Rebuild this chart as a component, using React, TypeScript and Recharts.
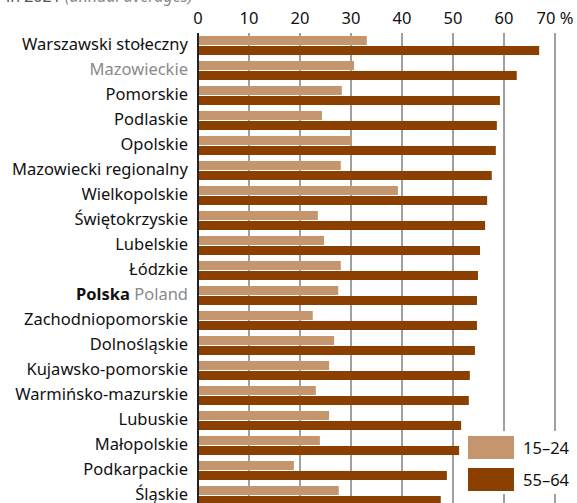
import { BarChart, Bar, XAxis, YAxis, CartesianGrid, Legend } from 'recharts'

const regions = [
  'Warszawski stołeczny', 'Mazowieckie', 'Pomorskie', 'Podlaskie', 'Opolskie',
  'Mazowiecki regionalny', 'Wielkopolskie', 'Świętokrzyskie', 'Lubelskie', 'Łódzkie',
  'Polska', 'Zachodniopomorskie', 'Dolnośląskie', 'Kujawsko-pomorskie', 'Warmińsko-mazurskie',
  'Lubuskie', 'Małopolskie', 'Podkarpackie', 'Śląskie',
]
const young = [33.1, 30.6, 28.2, 24.3, 30.1, 28.0, 39.2, 23.5, 24.7, 28.0, 27.5, 22.5, 26.7, 25.7, 23.1, 25.7, 23.9, 18.8, 27.6]
const older = [66.9, 62.5, 59.2, 58.6, 58.4, 57.6, 56.7, 56.3, 55.3, 54.9, 54.7, 54.7, 54.3, 53.3, 53.1, 51.6, 51.2, 48.8, 47.6]
const xTicks = [0, 10, 20, 30, 40, 50, 60, 70]

const LIGHT = '#c5956d'
const DARK = '#8b4000'
const GREY = '#8a8a8a'
const FONT = '"Noto Sans", sans-serif'

const data = regions.map((name, i) => ({ name, young: young[i], older: older[i] }))

const RegionTick = ({ x, y, payload }: any) => {
  const v = payload.value
  if (v === 'Polska') {
    return (
      <text x={x} y={y} dy={4} textAnchor="end" fontSize={16.5} fontFamily={FONT}>
        <tspan fontWeight="bold" fill="#111">Polska</tspan>
        <tspan fill={GREY}> Poland</tspan>
      </text>
    )
  }
  return (
    <text x={x} y={y} dy={4} textAnchor="end" fontSize={16.5} fontFamily={FONT} fill={v === 'Mazowieckie' ? GREY : '#111'}>
      {v}
    </text>
  )
}

const ValueTick = ({ x, payload }: any) => (
  <text x={x} y={24} textAnchor="middle" fontSize={16.5} fontFamily={FONT} fill="#111">
    {payload.value === 70 ? '70 %' : payload.value}
  </text>
)

const LegendBox = () => (
  <div style={{ background: '#fff', width: 117, height: 63, fontFamily: FONT, fontSize: 16.5, color: '#111' }}>
    {[['15–24', LIGHT], ['55–64', DARK]].map(([label, color], i) => (
      <div key={i} style={{ display: 'flex', alignItems: 'center', height: 32, paddingLeft: 8 }}>
        <div style={{ width: 46, height: 23, background: color, marginRight: 9 }} />
        <span>{label}</span>
      </div>
    ))}
  </div>
)

export default function App() {
  return (
    <div style={{ position: 'absolute', left: 0, top: 0, width: 577, height: 503, overflow: 'hidden', background: '#fff' }}>
      <div style={{ position: 'absolute', left: 6, top: -12, fontFamily: FONT, fontSize: 16, lineHeight: '16px', whiteSpace: 'nowrap', zIndex: 2 }}>
        <span style={{ color: '#555' }}>in 2021 </span>
        <span style={{ color: GREY, fontStyle: 'italic' }}>(annual averages)</span>
      </div>
      <BarChart
        width={577}
        height={508}
        data={data}
        layout="vertical"
        margin={{ top: 0, right: 22, bottom: 0, left: 0 }}
        barSize={9}
        barGap={1}
      >
        <CartesianGrid horizontal={false} stroke="#808080" strokeWidth={1.5} />
        <XAxis
          type="number"
          orientation="top"
          domain={[0, 70]}
          ticks={xTicks}
          height={33}
          axisLine={false}
          tickLine={false}
          tick={<ValueTick />}
          interval={0}
        />
        <YAxis
          type="category"
          dataKey="name"
          width={198}
          axisLine={{ stroke: '#222', strokeWidth: 2 }}
          tickLine={false}
          tickSize={0}
          tickMargin={10}
          tick={<RegionTick />}
          interval={0}
        />
        <Legend
          layout="vertical"
          align="center"
          verticalAlign="middle"
          content={<LegendBox />}
          wrapperStyle={{ position: 'absolute', left: 460, top: 431, width: 117, height: 63 }}
        />
        <Bar dataKey="young" fill={LIGHT} isAnimationActive={false} />
        <Bar dataKey="older" fill={DARK} isAnimationActive={false} />
      </BarChart>
    </div>
  )
}
